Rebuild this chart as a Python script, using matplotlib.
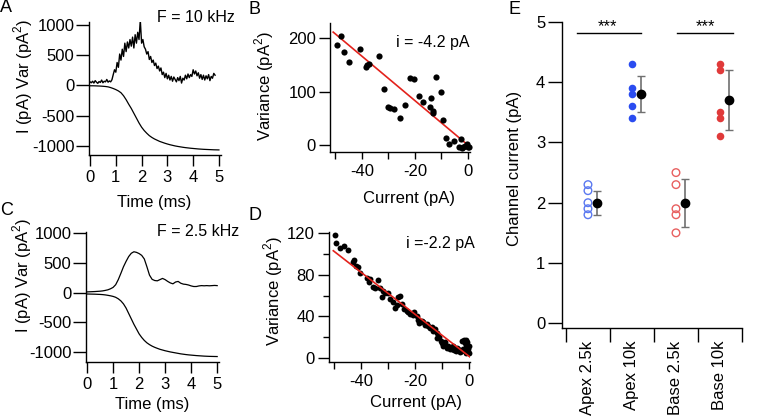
import numpy as np
import matplotlib.pyplot as plt
from matplotlib.ticker import FixedLocator

# ---- data ------------------------------------------------------------------
# panel A (F = 10 kHz): noisy variance trace (0.05 ms steps) and mean current (0.1 ms)
var_a = [60, 45, 70, 40, 80, 55, 35, 65, 50, 90, 45, 70, 60, 100, 55, 75, 60, 95,
         180, 260, 220, 380, 300, 520, 420, 600, 480, 700, 560, 720, 620, 760, 650,
         800, 620, 840, 700, 880, 760, 1080, 700, 760, 640, 600, 520, 560, 430, 480,
         380, 420, 330, 370, 280, 320, 240, 290, 180, 220, 130, 200, 110, 170, 90,
         150, 70, 140, 100, 60, 130, 80, 150, 40, 120, 90, 170, 110, 190, 130, 180,
         150, 260, 190, 240, 160, 210, 120, 180, 100, 170, 90, 160, 110, 180, 80,
         150, 120, 200, 170]
cur_a = [-5, -5, -6, -8, -10, -13, -17, -23, -35, -50, -68, -90, -120, -170, -235,
         -310, -380, -460, -540, -620, -690, -745, -790, -830, -860, -885, -905,
         -925, -940, -955, -968, -980, -990, -1000, -1008, -1015, -1022, -1028,
         -1033, -1038, -1042, -1046, -1050, -1053, -1056, -1058, -1060, -1062,
         -1064, -1065, -1066]

# panel C (F = 2.5 kHz)
var_c = [10, 12, 14, 16, 19, 22, 27, 35, 45, 62, 85, 130, 215, 320, 430, 520, 600,
         655, 680, 670, 650, 620, 560, 430, 290, 220, 200, 195, 215, 235, 215, 185,
         160, 145, 175, 185, 155, 140, 135, 125, 110, 100, 100, 110, 115, 112, 115,
         112, 115, 118, 115]
cur_c = [-25, -26, -27, -28, -30, -32, -35, -40, -47, -55, -65, -80, -105, -140,
         -190, -260, -350, -440, -530, -610, -690, -750, -800, -840, -870, -895,
         -915, -932, -948, -960, -972, -982, -992, -1000, -1008, -1016, -1024,
         -1030, -1036, -1041, -1045, -1049, -1053, -1056, -1059, -1062, -1064,
         -1066, -1067, -1068, -1069]

t_var_a = np.round(np.arange(len(var_a)) * 0.05, 2)
t_cur = np.round(np.arange(len(cur_a)) * 0.1, 2)

# panel B: variance vs current, i = -4.2 pA
cur_b = [-49.3, -47.7, -46.8, -44.8, -40.8, -38.5, -37.9, -37.2, -33.5, -31.6,
         -30.1, -29.2, -27.9, -25.7, -23.8, -21.9, -20.3, -18.4, -16.9, -14.3,
         -13.8, -13.3, -13.1, -12.1, -10.3, -9.3, -8.3, -7.3, -5.3, -2.6, -3.3,
         -2.4, -1.8, -1.1, -0.5, 0.1, 0.4]
var_b = [187, 204, 174, 156, 179, 145, 149, 151, 167, 105, 71, 70, 68, 50, 75,
         126, 123, 92, 80, 71, 88, 64, 59, 128, 99, 47, 13, 2, 7, 11, -4, -5, -3,
         -2, 2, -3, -4]
fit_b_x = [-50.8, 0.0]
fit_b_y = [211, 0]

# panel D: variance vs current, i = -2.2 pA
cur_d = [-49.6, -49.3, -47.8, -46.5, -44.9, -43.1, -42.6, -41.9, -41.0, -40.4,
         -37.7, -36.7, -36.9, -35.4, -34.8, -33.6, -32.9, -31.9, -32.3, -31.1,
         -30.2, -29.3, -28.0, -27.4, -26.8, -26.2, -25.6, -25.0, -24.1, -23.1,
         -22.5, -21.9, -20.9, -20.4, -19.4, -18.8, -18.4, -17.5, -16.9, -16.3,
         -15.7, -15.1, -14.4, -13.8, -13.2, -12.6, -12.0, -11.7, -11.0, -10.5,
         -10.1, -9.5, -8.9, -8.2, -7.6, -7.0, -6.4, -6.0, -5.5, -4.8, -4.6, -4.0,
         -3.4, -2.8, -2.4, -1.9, -1.5, -1.2, -0.9, -0.7, -0.3, -0.3, -0.9, -1.5,
         -2.1, 0.0, 0.0, -0.7, -1.4]
var_d = [118, 110, 106, 108, 104, 92, 94, 88, 87, 82, 77, 76, 73, 68, 67, 75, 67,
         64, 59, 62, 62, 57, 54, 48, 51, 59, 60, 52, 47, 45, 44, 42, 41, 44, 40,
         37, 34, 36, 35, 32, 33, 31, 29, 30, 26, 28, 24, 19, 20, 16, 14, 12, 15,
         10, 12, 9, 9, 12, 8, 7, 10, 9, 6, 7, 16, 17, 14, 11, 17, 12, 9, 6, 5, 7,
         9, 12, 5, 15, 16]
fit_d_x = [-50.3, 0.4]
fit_d_y = [103, 1]

# panel E: channel current
groups = ['Apex 2.5k', 'Apex 10k', 'Base 2.5k', 'Base 10k']
apex25 = [2.3, 2.2, 2.0, 1.9, 1.8]
apex10 = [4.3, 3.9, 3.8, 3.6, 3.4]
base25 = [2.5, 2.3, 1.9, 1.8, 1.5]
base10 = [4.3, 4.2, 3.5, 3.4, 3.1]
means = [2.0, 3.8, 2.0, 3.7]
sems = [0.2, 0.3, 0.4, 0.5]

# ---- style -----------------------------------------------------------------
plt.rcParams.update({'font.family': 'Liberation Sans',
                     'font.size': 12,
                     'mathtext.fontset': 'custom',
                     'mathtext.rm': 'Liberation Sans',
                     'axes.unicode_minus': False,
                     'axes.linewidth': 1.0,
                     'xtick.major.width': 1.0,
                     'ytick.major.width': 1.0,
                     'xtick.minor.width': 1.0,
                     'ytick.minor.width': 1.0})

W, H = 763, 417
fig = plt.figure(figsize=(W / 100, H / 100), dpi=100)


def add_ax(left, top, right, bottom):
    # pixel box -> figure fraction
    ax = fig.add_axes([left / W, 1 - bottom / H, (right - left) / W, (bottom - top) / H])
    ax.spines['top'].set_visible(False)
    ax.spines['right'].set_visible(False)
    ax.patch.set_alpha(0)
    return ax


def ftext(x, y, s, **kw):
    kw.setdefault('ha', 'center')
    kw.setdefault('va', 'center')
    fig.text(x / W, 1 - y / H, s, **kw)


def trace_axes(ax):
    ax.set_xticks([0, 1, 2, 3, 4, 5])
    ax.set_yticks([-1000, -500, 0, 500, 1000])
    ax.tick_params(axis='y', length=9.5, pad=1)
    ax.tick_params(axis='x', length=8, pad=3)


# ---- A ---------------------------------------------------------------------
axA = add_ax(89, 22, 221, 155)
axA.plot(t_var_a, var_a, color='k', lw=1.0)
axA.plot(t_cur, cur_a, color='k', lw=0.9)
axA.set_xlim(-0.04, 5.08)
axA.set_ylim(-1150, 1050)
trace_axes(axA)

# ---- C ---------------------------------------------------------------------
axC = add_ax(86, 232, 219, 362)
axC.plot(t_cur, var_c, color='k', lw=0.9)
axC.plot(t_cur, cur_c, color='k', lw=0.9)
axC.set_xlim(-0.04, 5.07)
axC.set_ylim(-1160, 1010)
trace_axes(axC)

# ---- B ---------------------------------------------------------------------
axB = add_ax(330, 23, 470, 152)
axB.scatter(cur_b, var_b, s=20, color='k', lw=0, zorder=3, clip_on=False)
axB.plot(fit_b_x, fit_b_y, color='#e3221c', lw=1.2, zorder=2)
axB.set_xlim(-52, 0.8)
axB.set_ylim(-13, 228)
axB.set_xticks([-40, -20, 0])
axB.xaxis.set_minor_locator(FixedLocator([-50, -30, -10]))
axB.set_yticks([0, 100, 200])
axB.tick_params(axis='y', length=8, pad=2)
axB.tick_params(axis='x', which='both', length=5, pad=4)

# ---- D ---------------------------------------------------------------------
axD = add_ax(329, 232, 470, 362)
axD.scatter(cur_d, var_d, s=18, color='k', lw=0, zorder=3, clip_on=False)
axD.plot(fit_d_x, fit_d_y, color='#e3221c', lw=1.2, zorder=4)
axD.set_xlim(-51.9, 0.4)
axD.set_ylim(-3.8, 121)
axD.set_xticks([-40, -20, 0])
axD.xaxis.set_minor_locator(FixedLocator([-50, -30, -10]))
axD.set_yticks([0, 40, 80, 120])
axD.yaxis.set_minor_locator(FixedLocator([20, 60, 100]))
axD.tick_params(axis='y', length=8, pad=2)
axD.tick_params(axis='y', which='minor', length=4.5)
axD.tick_params(axis='x', which='both', length=5, pad=4)

# ---- E ---------------------------------------------------------------------
axE = add_ax(562, 22, 742, 328)
blue = '#2a4cf0'
red = '#e03a3a'
pos = np.arange(len(groups))
axE.scatter([pos[0]] * len(apex25), apex25, s=30, facecolors='none',
            edgecolors='#5a78f0', lw=1.0, zorder=3)
axE.scatter([pos[1]] * len(apex10), apex10, s=30, color=blue, lw=0, zorder=3)
axE.scatter([pos[2]] * len(base25), base25, s=30, facecolors='none',
            edgecolors='#e86060', lw=1.0, zorder=3)
axE.scatter([pos[3]] * len(base10), base10, s=30, color=red, lw=0, zorder=3)
axE.errorbar(pos + 0.2, means, yerr=sems, fmt='o', color='k', ms=6,
             ecolor='#707070', elinewidth=1.2, capsize=3, capthick=1.0, zorder=4)
axE.plot([-0.25, 1.2], [4.82, 4.82], color='k', lw=1.0, clip_on=False)
axE.plot([2.02, 3.3], [4.82, 4.82], color='k', lw=1.0, clip_on=False)
axE.text(0.45, 4.93, '***', ha='center', va='center', fontsize=12)
axE.text(2.68, 4.93, '***', ha='center', va='center', fontsize=12)
axE.set_xlim(-0.59, 3.5)
axE.set_ylim(-0.08, 5.0)
axE.set_yticks([0, 1, 2, 3, 4, 5])
axE.set_xticks([-0.5, 0.5, 1.5, 2.5, 3.5])
axE.set_xticklabels([])
axE.set_xticks(pos, groups, minor=True, rotation=90)
axE.tick_params(axis='x', which='major', length=10)
axE.tick_params(axis='x', which='minor', length=0, pad=9)
axE.tick_params(axis='y', length=10, pad=2)

# ---- labels ----------------------------------------------------------------
ftext(23, 76, 'I (pA) Var (pA$^2$)', rotation=90)
ftext(22, 275, 'I (pA) Var (pA$^2$)', rotation=90)
ftext(264, 86, 'Variance (pA$^2$)', rotation=90)
ftext(273, 291, 'Variance (pA$^2$)', rotation=90)
ftext(514, 168, 'Channel current (pA)', rotation=90)
ftext(154, 202, 'Time (ms)')
ftext(152, 405, 'Time (ms)')
ftext(409, 199, 'Current (pA)')
ftext(416, 403, 'Current (pA)')

ftext(196, 17, 'F = 10 kHz', fontsize=11.5)
ftext(198, 232, 'F = 2.5 kHz', fontsize=11.5)
ftext(433, 43, 'i = -4.2 pA', fontsize=11.5)
ftext(440, 243, 'i =-2.2 pA', fontsize=11.5)

for letter, x, y in [('A', 6, 8), ('B', 255, 9), ('C', 7, 211),
                     ('D', 255, 216), ('E', 514, 9)]:
    ftext(x, y, letter, fontsize=13)

fig.savefig('out.png', dpi=100)
